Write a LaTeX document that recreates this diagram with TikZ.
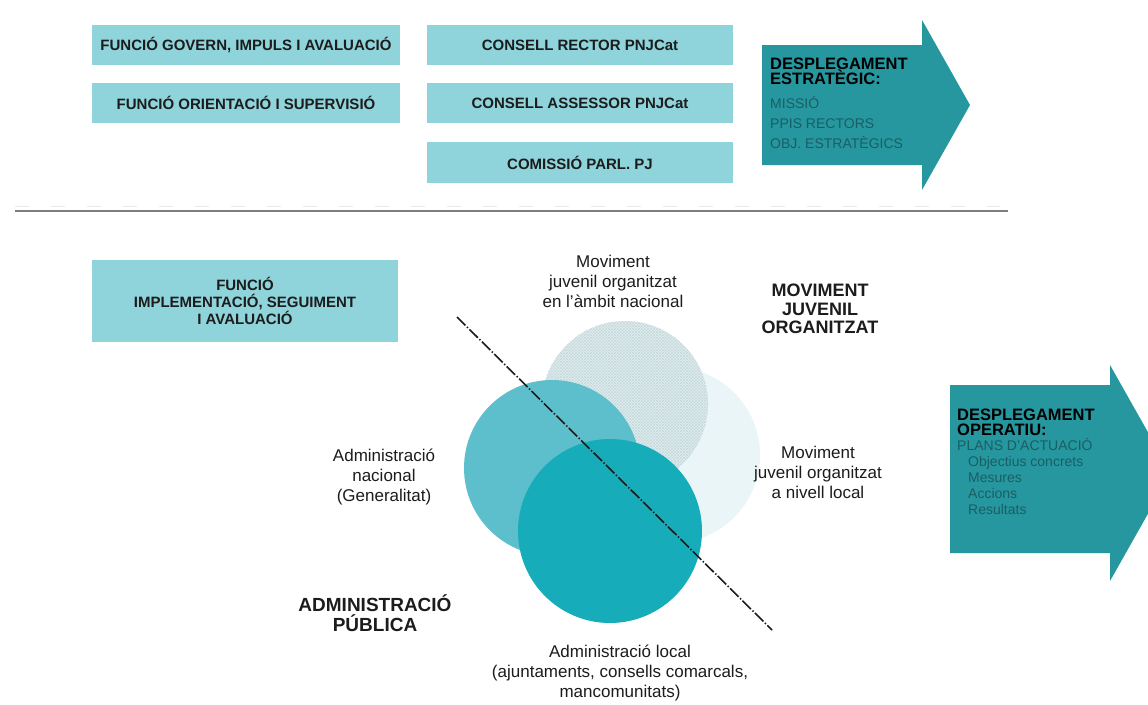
\documentclass[tikz,border=0pt]{standalone}
\usepackage{fontspec}
\setmainfont{Liberation Sans}
\usetikzlibrary{patterns}
\definecolor{boxc}{HTML}{8FD3DB}
\definecolor{arrc}{HTML}{26979F}
\definecolor{subc}{HTML}{1A5E65}
\definecolor{faintc}{HTML}{EAF5F7}
\definecolor{hatchbg}{HTML}{E2EEF0}
\definecolor{hatchfg}{HTML}{C6DADD}
\definecolor{midc}{HTML}{5DBFCC}
\definecolor{darkc}{HTML}{16ACBA}
\definecolor{txt}{HTML}{1C1C1C}
\definecolor{sepc}{HTML}{7E7E7E}
\definecolor{sepl}{HTML}{EBEBEB}
\tikzset{
  fbox/.style={fill=boxc, inner sep=0pt, text=txt, font=\bfseries\fontsize{15}{17}\selectfont, align=center},
  lbl/.style={font=\fontsize{17}{20}\selectfont, align=center, text=txt, inner sep=0pt},
  bigl/.style={font=\bfseries\fontsize{18}{18.5}\selectfont, align=center, text=txt, inner sep=0pt},
  arrhead/.style={font=\bfseries\fontsize{16.5}{15}\selectfont, anchor=base west, inner sep=0pt, text=black},
  arrsub/.style={font=\fontsize{14}{15}\selectfont, anchor=base west, inner sep=0pt, text=subc},
  disc/.style={circle, inner sep=0pt, draw=none}
}
\begin{document}
\begin{tikzpicture}[x=1pt,y=-1pt]
\useasboundingbox (0,0) rectangle (1148,704);
\clip (0,0) rectangle (1148,704);
\fill[white] (0,0) rectangle (1148,704);

% top boxes
\node[fbox, minimum width=308pt, minimum height=40pt] (fgov) at (246,45) {FUNCIÓ GOVERN, IMPULS I AVALUACIÓ};
\node[fbox, minimum width=308pt, minimum height=40pt] (fori) at (246,103) {FUNCIÓ ORIENTACIÓ I SUPERVISIÓ};
\node[fbox, minimum width=306pt, minimum height=40pt] (crec) at (580,45) {CONSELL RECTOR PNJCat};
\node[fbox, minimum width=306pt, minimum height=40pt] (cass) at (580,103) {CONSELL ASSESSOR PNJCat};
\node[fbox, minimum width=306pt, minimum height=41pt] (cpar) at (580,162.5) {COMISSIÓ PARL. PJ};

% top arrow
\fill[arrc] (762,45) -- (922,45) -- (922,20) -- (970,105) -- (922,190) -- (922,165) -- (762,165) -- cycle;
\node[arrhead] (d1a) at (770,69) {DESPLEGAMENT};
\node[arrhead] (d1b) at (770,84.5) {ESTRATÈGIC:};
\node[arrsub] (d1c) at (770,108) {MISSIÓ};
\node[arrsub] (d1d) at (770,128) {PPIS RECTORS};
\node[arrsub] (d1e) at (770,148) {OBJ. ESTRATÈGICS};

% separator
\coordinate (sepA) at (15,211);
\coordinate (sepB) at (1008,211);
\coordinate (sepC) at (15,206);
\coordinate (sepD) at (1000,206);
\draw[sepl, line width=0.8pt, dash pattern=on 14pt off 22pt] (sepC) -- (sepD);
\draw[sepc, line width=2.2pt] (sepA) -- (sepB);

% implementation box
\node[fbox, minimum width=306pt, minimum height=82pt] (fimp) at (245,301) {FUNCIÓ\\IMPLEMENTACIÓ, SEGUIMENT\\I AVALUACIÓ};

% circles
\node[disc, fill=faintc, minimum size=176pt] (cloc) at (672,455) {};
\node[disc, fill=hatchbg, minimum size=166pt, postaction={pattern=crosshatch, pattern color=hatchfg}] (cnac) at (625,404) {};
\node[disc, fill=midc, minimum size=176pt] (anac) at (552,468) {};
\node[disc, fill=darkc, minimum size=184pt] (aloc) at (610,531) {};

% dash-dot line
\coordinate (dlA) at (457,317);
\coordinate (dlB) at (772,630);
\draw[txt, line width=1.6pt, dash pattern=on 12pt off 2pt on 1.5pt off 2pt] (dlA) -- (dlB);

% labels
\node[lbl] (lmn) at (613,281) {Moviment\\juvenil organitzat\\en l'àmbit nacional};
\node[bigl] (lmjo) at (820,309) {MOVIMENT\\JUVENIL\\ORGANITZAT};
\node[lbl] (lml) at (818,472) {Moviment\\juvenil organitzat\\a nivell local};
\node[lbl] (lan) at (384,477) {Administració\\nacional\\(Generalitat)};
\node[bigl, font=\bfseries\fontsize{19}{19.5}\selectfont] (lap) at (375,613) {ADMINISTRACIÓ\\PÚBLICA};
\node[lbl] (lal) at (620,673) {Administració local\\(ajuntaments, consells comarcals,\\mancomunitats)};

% bottom arrow
\fill[arrc] (950,385) -- (1110,385) -- (1110,365) -- (1171,473) -- (1110,581) -- (1110,553) -- (950,553) -- cycle;
\node[arrhead] (d2a) at (957,420) {DESPLEGAMENT};
\node[arrhead] (d2b) at (957,435) {OPERATIU:};
\node[arrsub] (d2c) at (957,450) {PLANS D'ACTUACIÓ};
\node[arrsub] (d2d) at (968,466) {Objectius concrets};
\node[arrsub] (d2e) at (968,482) {Mesures};
\node[arrsub] (d2f) at (968,498) {Accions};
\node[arrsub] (d2g) at (968,514) {Resultats};
\end{tikzpicture}
\end{document}
